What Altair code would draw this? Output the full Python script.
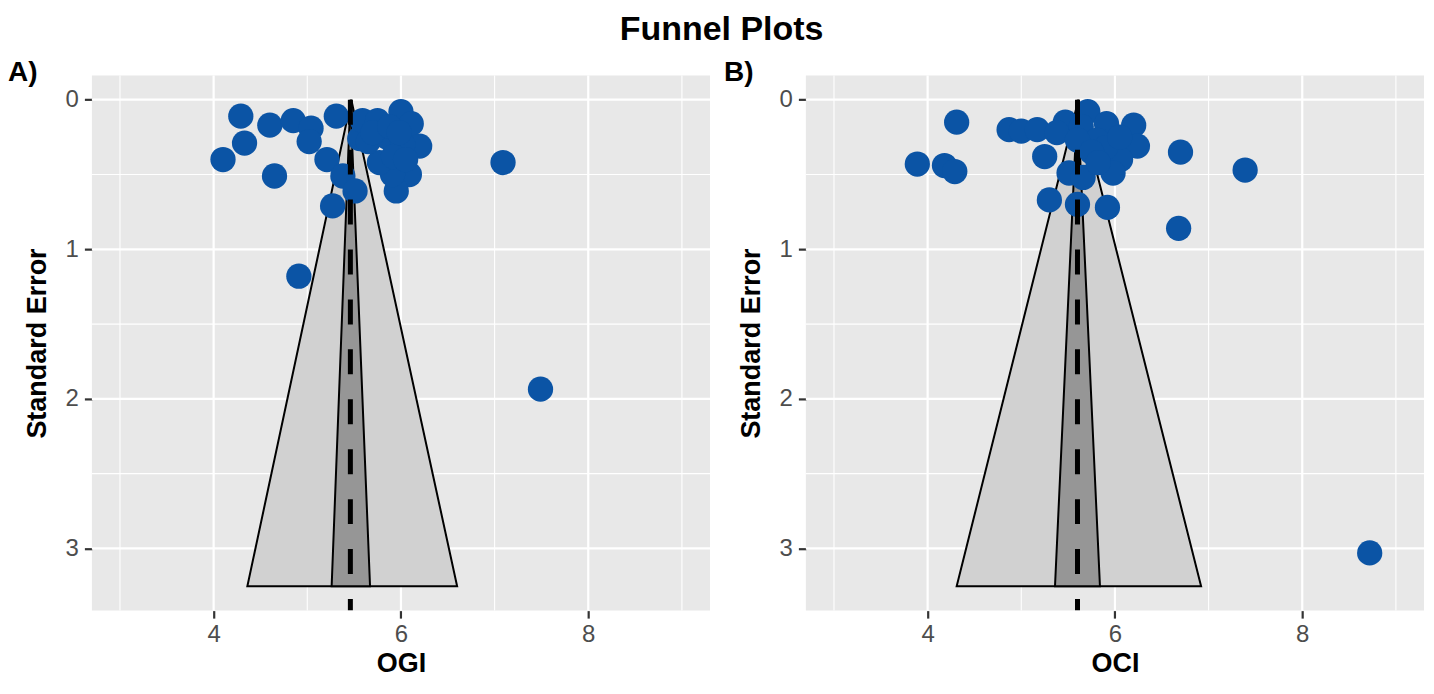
import altair as alt
import pandas as pd

# ---- axis ranges (ggplot-style 5% expansion) ----
X_DOMAIN = [2.7, 9.3]
Y_DOMAIN = [-0.1627, 3.4157]

x_major = [4, 6, 8]
x_minor = [3, 5, 7, 9]
y_major = [0, 1, 2, 3]
y_minor = [0.5, 1.5, 2.5]

# ---- Panel A: OGI ----
ogi_effect = [4.29, 4.33, 4.10, 4.60, 4.65, 4.85, 5.04, 5.02, 4.91, 7.09, 7.49,
              5.31, 5.21, 5.56, 5.38, 5.51, 5.27,
              5.59, 5.75, 6.00, 6.11, 6.20, 6.09, 5.95, 5.91, 5.77, 5.65,
              5.85, 6.02, 5.92, 6.05, 5.70, 5.88, 5.98]
ogi_se = [0.11, 0.29, 0.40, 0.17, 0.51, 0.14, 0.19, 0.28, 1.18, 0.42, 1.935,
          0.11, 0.40, 0.26, 0.51, 0.61, 0.71,
          0.14, 0.14, 0.08, 0.16, 0.31, 0.50, 0.61, 0.50, 0.42, 0.28,
          0.25, 0.30, 0.38, 0.40, 0.22, 0.18, 0.22]

# ---- Panel B: OCI ----
oci_effect = [4.31, 3.89, 4.18, 4.29, 4.87, 5.00, 5.17, 5.25, 5.47, 5.71,
              5.91, 6.20, 6.24, 6.06, 5.98, 5.51, 5.66, 5.30, 5.60, 5.92,
              6.70, 6.68, 7.39, 8.72,
              5.38, 5.64, 5.81, 5.60, 5.90, 5.75, 6.05, 5.82]
oci_se = [0.15, 0.43, 0.44, 0.48, 0.20, 0.21, 0.20, 0.38, 0.15, 0.08,
          0.16, 0.17, 0.31, 0.40, 0.49, 0.49, 0.52, 0.67, 0.70, 0.72,
          0.35, 0.86, 0.47, 3.03,
          0.22, 0.18, 0.27, 0.27, 0.32, 0.35, 0.25, 0.42]

# ---- funnels (se at apex and at base) ----
funnel_se = [0.0, 3.253]
ogi_center = 5.46
ogi_outer_lo = [5.47, 4.36]
ogi_outer_hi = [5.47, 6.60]
ogi_inner_lo = [5.46, 5.26]
ogi_inner_hi = [5.46, 5.67]

oci_center = 5.60
oci_outer_lo = [5.61, 4.31]
oci_outer_hi = [5.61, 6.92]
oci_inner_lo = [5.60, 5.36]
oci_inner_hi = [5.60, 5.84]

FONT = "Liberation Sans"
POINT_COLOR = "#0B54A5"
W, H = 619, 536


def panel(xname, tag, tag_x, effect, se, center, olo, ohi, ilo, ihi):
    xs = alt.Scale(domain=X_DOMAIN, nice=False, zero=False)
    ys = alt.Scale(domain=Y_DOMAIN, nice=False, zero=False, reverse=True)
    xaxis = alt.Axis(values=x_major, title=xname)
    yaxis = alt.Axis(values=y_major, title="Standard Error")

    def X(f):
        return alt.X(f, type="quantitative", scale=xs, axis=xaxis, title=xname)

    def Y(f):
        return alt.Y(f, type="quantitative", scale=ys, axis=yaxis, title="Standard Error")

    gx_min = alt.Chart(pd.DataFrame({"v": x_minor})).mark_rule(
        color="white", strokeWidth=1.1).encode(x=X("v"))
    gy_min = alt.Chart(pd.DataFrame({"v": y_minor})).mark_rule(
        color="white", strokeWidth=1.1).encode(y=Y("v"))
    gx_maj = alt.Chart(pd.DataFrame({"v": x_major})).mark_rule(
        color="white", strokeWidth=2.2).encode(x=X("v"))
    gy_maj = alt.Chart(pd.DataFrame({"v": y_major})).mark_rule(
        color="white", strokeWidth=2.2).encode(y=Y("v"))

    outer = alt.Chart(pd.DataFrame({"se": funnel_se, "lo": olo, "hi": ohi})).mark_area(
        orient="horizontal", fill="#D1D1D1", stroke="black", strokeWidth=2,
        opacity=1, clip=True
    ).encode(y=Y("se"), x=X("lo"), x2="hi")
    inner = alt.Chart(pd.DataFrame({"se": funnel_se, "lo": ilo, "hi": ihi})).mark_area(
        orient="horizontal", fill="#969696", stroke="black", strokeWidth=2,
        opacity=1, clip=True
    ).encode(y=Y("se"), x=X("lo"), x2="hi")

    pts = alt.Chart(pd.DataFrame({"effect": effect, "se": se})).mark_circle(
        size=640, color=POINT_COLOR, opacity=1, clip=True
    ).encode(x=X("effect"), y=Y("se"))

    dash = alt.Chart(pd.DataFrame({"c": [center], "y0": [0.0], "y1": [Y_DOMAIN[1]]})).mark_rule(
        color="black", strokeWidth=5, strokeDash=[25, 25], clip=True
    ).encode(x=X("c"), y=Y("y0"), y2="y1")

    tagc = alt.Chart(pd.DataFrame({"t": [tag]})).mark_text(
        font=FONT, fontSize=28, fontWeight="bold", align="left",
        baseline="alphabetic", color="black"
    ).encode(text="t:N", x=alt.value(tag_x), y=alt.value(6))

    return alt.layer(gx_min, gy_min, gx_maj, gy_maj, outer, inner, pts, dash, tagc).properties(
        width=W, height=H)


pa = panel("OGI", "A)", -84, ogi_effect, ogi_se, ogi_center,
           ogi_outer_lo, ogi_outer_hi, ogi_inner_lo, ogi_inner_hi)
pb = panel("OCI", "B)", -82, oci_effect, oci_se, oci_center,
           oci_outer_lo, oci_outer_hi, oci_inner_lo, oci_inner_hi)

chart = alt.hconcat(pa, pb, spacing=12).properties(
    title=alt.TitleParams("Funnel Plots", font=FONT, fontSize=34, fontWeight="bold",
                          anchor="middle", color="black", offset=12, dx=5),
    padding={"left": 0, "top": 5, "right": 0, "bottom": 0},
).configure_view(
    fill="#E8E8E8", stroke=None
).configure_axis(
    grid=False, domain=False,
    tickColor="#333333", tickWidth=2.2, tickSize=7.5,
    labelFont=FONT, labelFontSize=24, labelColor="#4D4D4D",
    titleFont=FONT, titleFontSize=27, titleFontWeight="bold", titleColor="black",
).configure_axisX(
    labelPadding=4, titlePadding=4
).configure_axisY(
    labelPadding=6, titlePadding=14
)

chart.save("out.html", embed_options={"renderer": "svg", "actions": False})
